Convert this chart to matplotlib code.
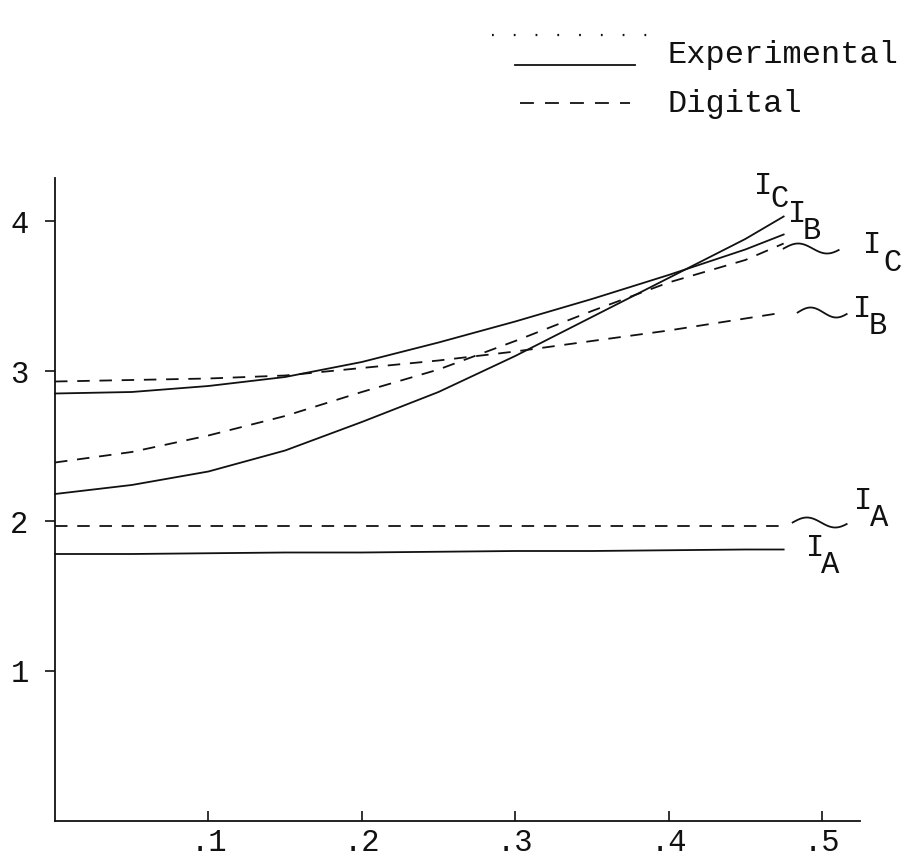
import matplotlib
matplotlib.use("Agg")
import matplotlib.pyplot as plt
import numpy as np
from matplotlib.lines import Line2D
from matplotlib.transforms import IdentityTransform

# ---------------- data ----------------
x = [0.0, 0.05, 0.1, 0.15, 0.2, 0.25, 0.3, 0.35, 0.4, 0.45, 0.475]

exp_ia = [1.78, 1.78, 1.785, 1.79, 1.79, 1.795, 1.80, 1.80, 1.805, 1.81, 1.81]
exp_ib = [2.85, 2.86, 2.90, 2.96, 3.06, 3.19, 3.33, 3.48, 3.64, 3.81, 3.91]
exp_ic = [2.18, 2.24, 2.33, 2.47, 2.66, 2.86, 3.10, 3.36, 3.62, 3.88, 4.03]

dig_ia = [1.97, 1.97, 1.97, 1.97, 1.97, 1.97, 1.97, 1.97, 1.97, 1.97, 1.97]
dig_ib = [2.93, 2.94, 2.95, 2.97, 3.02, 3.07, 3.13, 3.20, 3.27, 3.35, 3.39]
dig_ic = [2.39, 2.46, 2.57, 2.70, 2.86, 3.01, 3.20, 3.40, 3.59, 3.74, 3.85]

xticks = [0.1, 0.2, 0.3, 0.4, 0.5]
xticklabels = [".1", ".2", ".3", ".4", ".5"]
yticks = [1, 2, 3, 4]
yticklabels = ["1", "2", "3", "4"]

legend_labels = ["Experimental", "Digital"]

# ---------------- style ----------------
FONT = "Liberation Mono"
FS = 22
INK = "#111111"
W, H = 910, 864

fig = plt.figure(figsize=(W / 100, H / 100), dpi=100)
fig.patch.set_facecolor("white")

# axes: origin at pixel (55, 821), 1534 px per unit x, 150 px per unit y
ax = fig.add_axes([55 / W, (H - 821) / H, (860 - 55) / W, (821 - 178) / H])
ax.set_xlim(0, (860 - 55) / 1534)
ax.set_ylim(0, (821 - 178) / 150)
ax.set_facecolor("white")

for s in ("top", "right"):
    ax.spines[s].set_visible(False)
for s in ("left", "bottom"):
    ax.spines[s].set_linewidth(1.3)
    ax.spines[s].set_color(INK)

ax.set_xticks(xticks)
ax.set_xticklabels(xticklabels, fontfamily=FONT, fontsize=FS, color=INK)
ax.set_yticks(yticks)
ax.set_yticklabels(yticklabels, fontfamily=FONT, fontsize=FS, color=INK)
ax.tick_params(axis="x", direction="in", length=7, width=1.2, pad=5, colors=INK)
ax.tick_params(axis="y", direction="out", length=7, width=1.2, pad=12, colors=INK)

LW = 1.3
dash = (9.0 / LW, 7.0 / LW)

ax.plot(x, exp_ia, color=INK, lw=LW, clip_on=False)
ax.plot(x, exp_ib, color=INK, lw=LW, clip_on=False)
ax.plot(x, exp_ic, color=INK, lw=LW, clip_on=False)
for series in (dig_ia, dig_ib, dig_ic):
    ax.plot(x, series, color=INK, lw=LW, dashes=dash, clip_on=False)

# ---------------- curve labels (subscript letters placed beside "I") ----------------
def sublabel(series, main_off, sub_off, sub):
    xy = (x[-1], series[-1])
    ax.annotate("I", xy=xy, xytext=main_off, textcoords="offset pixels",
                ha="center", va="center", fontfamily=FONT, fontsize=FS,
                color=INK, annotation_clip=False)
    ax.annotate(sub, xy=xy, xytext=sub_off, textcoords="offset pixels",
                ha="center", va="center", fontfamily=FONT, fontsize=FS,
                color=INK, annotation_clip=False)

sublabel(exp_ic, (-21, 31), (-4, 18), "C")
sublabel(exp_ib, (13, 21), (28, 4), "B")
sublabel(dig_ic, (88, -1), (109, -19), "C")
sublabel(dig_ib, (78, 4), (94, -13), "B")
sublabel(dig_ia, (79, 25), (95, 8), "A")
sublabel(exp_ia, (31, 2), (46, -15), "A")

# ---------------- squiggle connectors ----------------
fig.canvas.draw()

def squiggle(series, dx0, length, dy0, amp=5.0):
    ex, ey = ax.transData.transform((x[-1], series[-1]))
    t = np.linspace(0, 1, 60)
    xs = ex + dx0 + length * t
    ys = ey + dy0 + amp * np.sin(2 * np.pi * 0.95 * t)
    fig.add_artist(Line2D(xs, ys, transform=IdentityTransform(),
                          color=INK, lw=LW))

squiggle(dig_ic, 0, 55, -5)
squiggle(dig_ib, 14, 49, 0)
squiggle(dig_ia, 9, 54, 3)

# ---------------- hand-drawn legend (top right) ----------------
def fx(px):
    return px / W

def fy(py):
    return 1 - py / H

fig.add_artist(Line2D([fx(492), fx(655)], [fy(35), fy(35)], transform=fig.transFigure,
                      color=INK, lw=1.6, linestyle=(0, (0.8, 9))))
fig.add_artist(Line2D([fx(515), fx(635)], [fy(65), fy(65)], transform=fig.transFigure,
                      color=INK, lw=LW))
fig.add_artist(Line2D([fx(520), fx(630)], [fy(103), fy(103)], transform=fig.transFigure,
                      color=INK, lw=LW, dashes=(10 / LW, 8 / LW)))

fig.text(fx(668), fy(63), legend_labels[0], ha="left", va="baseline",
         fontfamily=FONT, fontsize=23, color=INK)
fig.text(fx(668), fy(112), legend_labels[1], ha="left", va="baseline",
         fontfamily=FONT, fontsize=23, color=INK)

fig.savefig("out.png", dpi=100, facecolor="white")
